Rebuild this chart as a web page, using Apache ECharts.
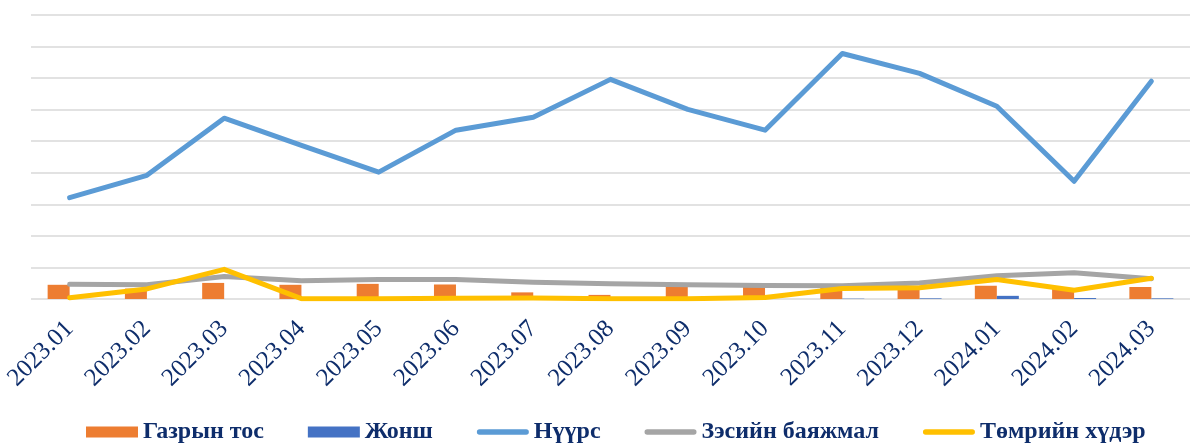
<!DOCTYPE html>
<html>
<head>
<meta charset="utf-8">
<script src="https://cdn.jsdelivr.net/npm/echarts@6/dist/echarts.min.js"></script>
<style>
  html, body { margin: 0; padding: 0; background: #fff; }
  #chart { width: 1190px; height: 443px; }
</style>
</head>
<body>
<div id="chart"></div>
<script>
// сарын ангилал
var categories = ['2023.01', '2023.02', '2023.03', '2023.04', '2023.05', '2023.06', '2023.07', '2023.08',
  '2023.09', '2023.10', '2023.11', '2023.12', '2024.01', '2024.02', '2024.03']
// багана
var gazrynTos = [0.45, 0.33, 0.51, 0.45, 0.48, 0.46, 0.21, 0.13, 0.45, 0.5, 0.4, 0.38, 0.42, 0.35, 0.38]
var zhonsh = [0, 0, 0, 0, 0, 0, 0, 0, 0, 0, 0.01, 0.02, 0.1, 0.03, 0.02]
// шугам
var nuurs = [3.21, 3.92, 5.73, 4.87, 4.02, 5.35, 5.76, 6.96, 6.01, 5.35, 7.78, 7.15, 6.11, 3.73, 6.9]
var zesBayajmal = [0.47, 0.45, 0.71, 0.58, 0.62, 0.62, 0.53, 0.48, 0.45, 0.43, 0.42, 0.51, 0.74, 0.83, 0.64]
var tomriinHuder = [0.04, 0.32, 0.94, 0.01, 0.01, 0.02, 0.03, 0.01, 0.01, 0.05, 0.33, 0.36, 0.62, 0.28, 0.66]

var navy = '#0e2d6b'
var serif = "'Liberation Serif', 'Times New Roman', serif"
// legend-ийн шугаман дүрс (бөөрөнхий үзүүртэй)
var lineIcon = 'path://M3,0 L55,0 A3,3 0 0 1 55,6 L3,6 A3,3 0 0 1 3,0 Z'

var chart = echarts.init(document.getElementById('chart'))

function lineSeries(name, data, color) {
  return {
    name: name,
    type: 'line',
    data: data,
    symbol: 'none',
    lineStyle: { color: color, width: 5, cap: 'round', join: 'round' },
    itemStyle: { color: color }
  }
}

chart.setOption({
  animation: false,
  grid: { left: 31, top: 15, width: 1172, height: 284 },
  legend: {
    top: 420,
    left: 86,
    padding: 0,
    itemWidth: 52,
    itemHeight: 11,
    itemGap: 44,
    textStyle: { fontFamily: serif, fontWeight: 'bold', fontSize: 24, color: navy },
    data: [
      { name: 'Газрын тос', icon: 'rect' },
      { name: 'Жонш', icon: 'rect' },
      { name: 'Нүүрс', icon: lineIcon },
      { name: 'Зэсийн баяжмал', icon: lineIcon },
      { name: 'Төмрийн хүдэр', icon: lineIcon }
    ]
  },
  xAxis: {
    type: 'category',
    data: categories,
    axisLine: { show: false },
    axisTick: { show: false },
    axisLabel: {
      interval: 0,
      rotate: 45,
      margin: 26,
      fontFamily: serif,
      fontSize: 25,
      color: navy
    }
  },
  yAxis: {
    type: 'value',
    min: 0,
    max: 9,
    interval: 1,
    axisLabel: { show: false },
    axisLine: { show: false },
    axisTick: { show: false },
    splitLine: { lineStyle: { color: '#d9d9d9', width: 1.5 } }
  },
  series: [
    { name: 'Газрын тос', type: 'bar', data: gazrynTos, barWidth: 22, barGap: '0%', itemStyle: { color: '#ed7d31' } },
    { name: 'Жонш', type: 'bar', data: zhonsh, barWidth: 22, barGap: '0%', itemStyle: { color: '#4472c4' } },
    lineSeries('Нүүрс', nuurs, '#5b9bd5'),
    lineSeries('Зэсийн баяжмал', zesBayajmal, '#a5a5a5'),
    lineSeries('Төмрийн хүдэр', tomriinHuder, '#ffc000')
  ]
})
</script>
</body>
</html>
